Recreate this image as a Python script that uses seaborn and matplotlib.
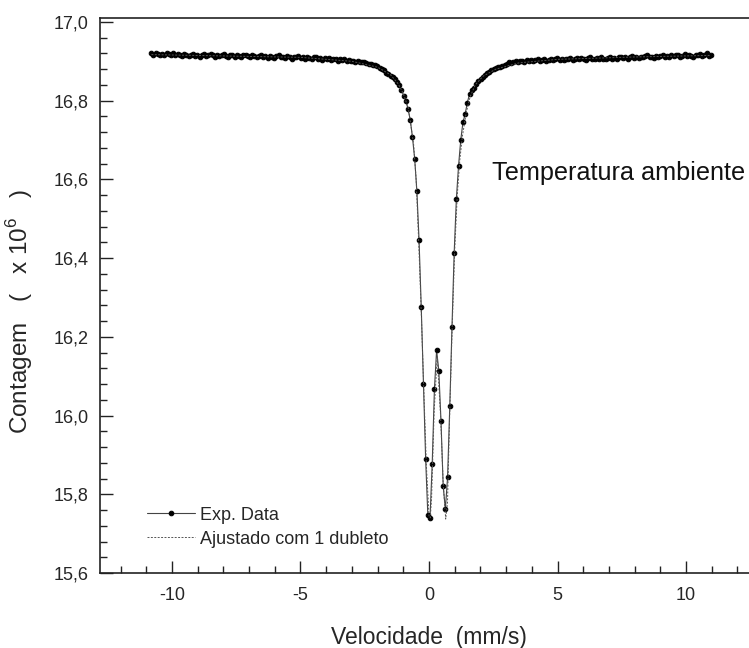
import numpy as np
import seaborn as sns
import matplotlib.pyplot as plt

# velocity channels (mm/s), evenly spaced from first to last channel
v_first = -10.805
v_last = 10.97
n_channels = 256

counts = [
    16.920, 16.917, 16.921, 16.918, 16.916, 16.919, 16.915, 16.920, 16.918, 16.916, 16.921, 16.915, 16.918, 16.917, 16.914, 16.919,
    16.917, 16.913, 16.916, 16.919, 16.914, 16.917, 16.912, 16.916, 16.918, 16.913, 16.915, 16.919, 16.916, 16.912, 16.917, 16.914,
    16.916, 16.918, 16.913, 16.911, 16.915, 16.917, 16.912, 16.916, 16.914, 16.910, 16.915, 16.917, 16.913, 16.911, 16.916, 16.913,
    16.910, 16.914, 16.916, 16.911, 16.913, 16.909, 16.914, 16.912, 16.908, 16.913, 16.915, 16.910, 16.912, 16.908, 16.913, 16.911,
    16.907, 16.912, 16.910, 16.913, 16.908, 16.910, 16.906, 16.911, 16.909, 16.905, 16.910, 16.912, 16.907, 16.909, 16.904, 16.908,
    16.906, 16.909, 16.904, 16.907, 16.905, 16.902, 16.906, 16.903, 16.905, 16.901, 16.903, 16.900, 16.902, 16.899, 16.901, 16.898,
    16.897, 16.898, 16.895, 16.894, 16.893, 16.890, 16.891, 16.887,
    16.884, 16.881, 16.877, 16.870, 16.867, 16.863, 16.859, 16.855, 16.848, 16.840, 16.827, 16.813, 16.800, 16.778, 16.751, 16.707,
    16.653, 16.571, 16.446, 16.276, 16.081, 15.890, 15.747, 15.741, 15.878, 16.067, 16.166, 16.114, 15.986, 15.821, 15.762, 15.844,
    16.024, 16.224, 16.413, 16.550, 16.635, 16.700, 16.745, 16.766, 16.795, 16.817, 16.827, 16.833, 16.843, 16.850, 16.854, 16.859,
    16.866, 16.871, 16.873, 16.878, 16.880, 16.882, 16.886, 16.885, 16.888, 16.891, 16.893, 16.897, 16.895, 16.898, 16.900, 16.897,
    16.901, 16.901, 16.899, 16.903, 16.900, 16.904, 16.902, 16.903,
    16.905, 16.901, 16.904, 16.906, 16.902, 16.904, 16.907, 16.903, 16.905, 16.908, 16.904, 16.906, 16.903, 16.907, 16.905, 16.908,
    16.904, 16.907, 16.909, 16.905, 16.908, 16.906, 16.903, 16.908, 16.910, 16.905, 16.907, 16.909, 16.906, 16.910, 16.907, 16.905,
    16.909, 16.911, 16.907, 16.909, 16.906, 16.910, 16.912, 16.908, 16.910, 16.907, 16.911, 16.913, 16.909, 16.911, 16.908, 16.912,
    16.910, 16.913, 16.915, 16.910, 16.912, 16.909, 16.914, 16.911, 16.913, 16.916, 16.911, 16.914, 16.912, 16.916, 16.913, 16.915,
    16.917, 16.912, 16.914, 16.918, 16.913, 16.916, 16.914, 16.911, 16.917, 16.915, 16.918, 16.913, 16.916, 16.920, 16.914, 16.916,
]

# fitted doublet curve
fit_v = [-10.8, -5.0, -3.0, -2.0, -1.5, -1.2, -1.0, -0.8, -0.6, -0.5, -0.4, -0.3, -0.2, -0.1,
         0.0, 0.05, 0.1, 0.2, 0.32, 0.45, 0.55, 0.65, 0.72, 0.8, 0.9, 1.0, 1.1, 1.2, 1.3,
         1.45, 1.6, 1.8, 2.1, 2.6, 3.5, 5.0, 8.0, 10.97]
fit_y = [16.917, 16.910, 16.900, 16.885, 16.866, 16.843, 16.818, 16.780, 16.690, 16.600, 16.440, 16.260, 16.060, 15.870,
         15.745, 15.740, 15.790, 16.010, 16.150, 16.000, 15.830, 15.737, 15.780, 15.990, 16.220, 16.420, 16.560, 16.650, 16.710,
         16.770, 16.810, 16.840, 16.862, 16.880, 16.896, 16.905, 16.911, 16.915]

velocity = np.linspace(v_first, v_last, n_channels)

sns.set_style("ticks")
plt.rcParams['font.family'] = ['Liberation Sans', 'DejaVu Sans']
plt.rcParams['mathtext.fontset'] = 'custom'
plt.rcParams['mathtext.rm'] = 'Liberation Sans'
plt.rcParams['axes.unicode_minus'] = False

fig = plt.figure(figsize=(7.49, 6.48), dpi=100)
ax = fig.add_axes([100 / 749, 1 - 573 / 648, 658 / 749, 555 / 648])

sns.lineplot(x=velocity, y=counts, ax=ax, estimator=None, sort=False,
             color="#444444", linewidth=0.8, marker="o", markersize=3.3,
             markerfacecolor="black", markeredgecolor="black", label="Exp. Data")
sns.lineplot(x=fit_v, y=fit_y, ax=ax, estimator=None, sort=False,
             color="#555555", linewidth=0.7, linestyle=(0, (2, 1.5)),
             label="Ajustado com 1 dubleto")

ax.set_xlim(-12.8, 12.8)
ax.set_ylim(15.6, 17.01)
ax.set_xticks([-10, -5, 0, 5, 10])
ax.set_xticks(np.arange(-12, 13, 1), minor=True)
ax.set_yticks(np.arange(15.6, 17.01, 0.2))
ax.set_yticks(np.arange(15.6, 17.01, 0.04), minor=True)
ax.set_yticklabels([f"{t:.1f}".replace(".", ",") for t in np.arange(15.6, 17.01, 0.2)])
ax.tick_params(which="both", direction="in", width=1.0, labelsize=13, color="#222222")
ax.tick_params(which="major", length=9)
ax.tick_params(which="minor", length=5)
ax.tick_params(axis="x", pad=10)
ax.tick_params(axis="y", pad=8)
for s in ax.spines.values():
    s.set_linewidth(1.2)
    s.set_color("#222222")

ax.set_xlabel("Velocidade  (mm/s)", fontsize=16.5, labelpad=16)
ax.set_ylabel(r"Contagem   (   x 10$^6$   )", fontsize=17.5)
ax.yaxis.set_label_coords((35 - 100) / 658, (573 - 311) / 555)

ax.text((492 - 100) / 658, (573 - 173) / 555, "Temperatura ambiente", transform=ax.transAxes,
        fontsize=18.2, va="center", ha="left", color="#111111")

ax.legend(loc="lower left", bbox_to_anchor=(0.055, 0.026), frameon=False, fontsize=13,
          handlelength=2.65, handletextpad=0.28, labelspacing=0.4, borderpad=0.1)

fig.savefig("out.png", dpi=100)
